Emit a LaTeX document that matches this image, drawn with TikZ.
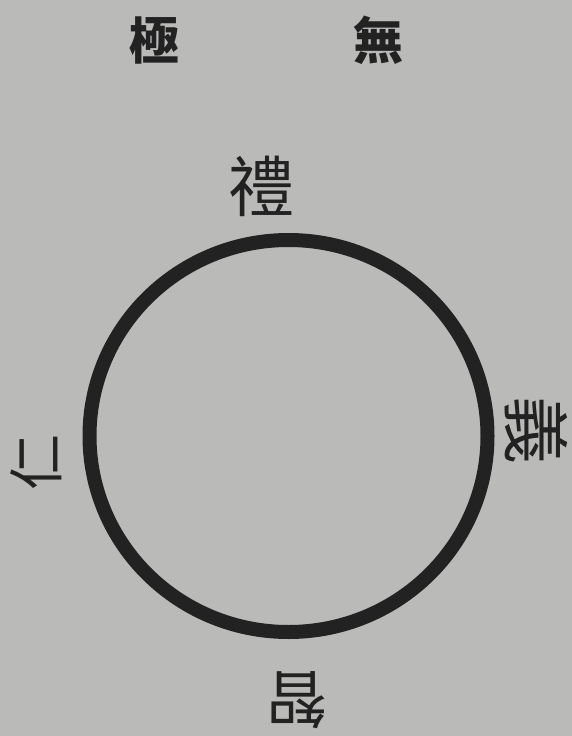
\documentclass[tikz,border=0pt]{standalone}
\usepackage{fontspec}
\newfontfamily\cjk{Noto Sans CJK TC}
\definecolor{paper}{RGB}{186,186,184}
\definecolor{ink}{RGB}{34,34,34}
\begin{document}
\begin{tikzpicture}[x=1pt,y=-1pt]
\tikzset{
  glyph/.style={inner sep=0pt, text=ink, font=\cjk\fontsize{#1}{#1}\selectfont},
  glyph/.default=54
}
\fill[paper] (0,0) rectangle (572,736);
\useasboundingbox (0,0) rectangle (572,736);
\node[glyph=50, font=\cjk\bfseries\fontsize{50}{50}\selectfont] (wu) at (378,40) {無};
\node[glyph=50, font=\cjk\bfseries\fontsize{50}{50}\selectfont] (ji) at (154,40) {極};
\coordinate (c) at (288.5,436);
\draw[ink, line width=14pt] (c) ellipse [x radius=199pt, y radius=196pt];
\node[glyph=66] (li) at (261,186) {禮};
\node[glyph=68, rotate=-90] (yi) at (536,430) {義};
\node[glyph=56, rotate=90] (ren) at (36,462) {仁};
\node[glyph=62, rotate=180] (zhi) at (296,700) {智};
\end{tikzpicture}
\end{document}
